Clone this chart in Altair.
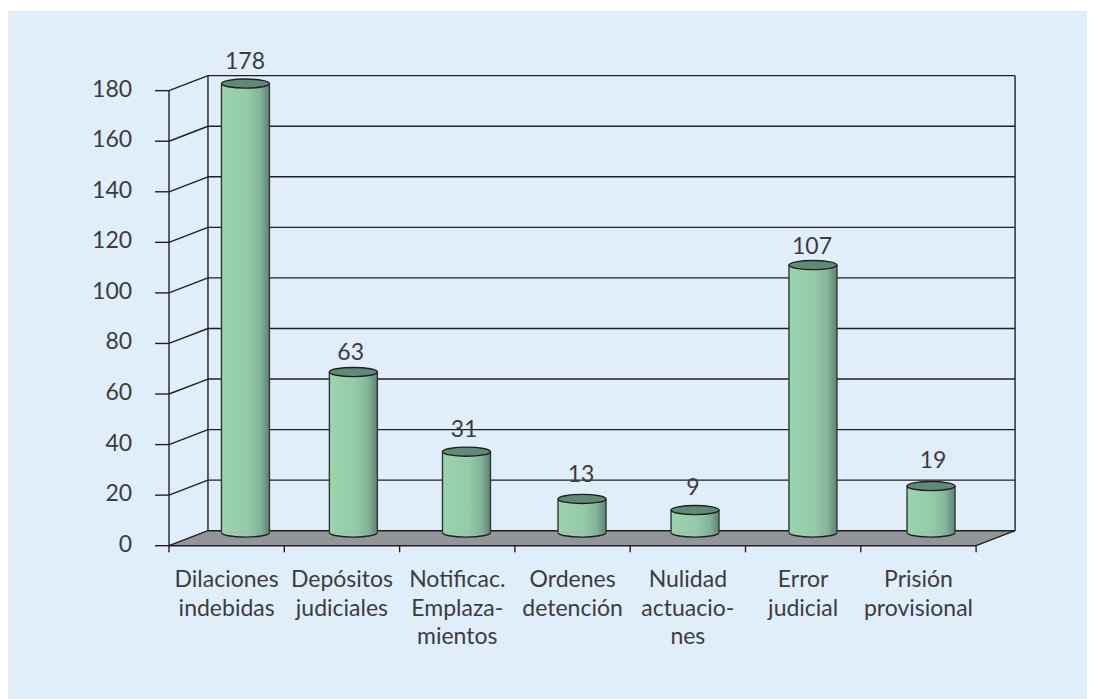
import altair as alt
import pandas as pd

categories = [["Dilaciones", "indebidas"], ["Depósitos", "judiciales"],
              ["Notificac.", "Emplaza-", "mientos"], ["Ordenes", "detención"],
              ["Nulidad", "actuacio-", "nes"], ["Error", "judicial"],
              ["Prisión", "provisional"]]
values = [178, 63, 31, 13, 9, 107, 19]
bar_center = [0.663, 1.599, 2.58, 3.582, 4.562, 5.585, 6.609]
bar_top = [182.8, 68.7, 37.2, 18.5, 14.1, 111.0, 23.6]
label_x = [0.659, 1.576, 2.559, 3.573, 4.545, 5.577, 6.626]
label_y = [191.5, 76.3, 45.8, 28.0, 22.8, 118.2, 33.5]
y_ticks = [0, 20, 40, 60, 80, 100, 120, 140, 160, 180]

BAR_BASE = 5.2
BAR_HALF = 0.208
DEPTH_X = 0.338
DEPTH_Y = 5.93
N = len(categories)

W, H = 1079, 691
xs = alt.Scale(domain=[-1.3964, 7.9618], range=[0, W], nice=False, zero=False)
ys = alt.Scale(domain=[-60.64, 212.7], range=[H, 0], nice=False, zero=False)
INK = "#231f20"
TEXT = "#3c3c3e"
FONT = "Lato"
FS = 23


def X(f="x"):
    return alt.X(f"{f}:Q", scale=xs, axis=None)


def Y(f="y"):
    return alt.Y(f"{f}:Q", scale=ys, axis=None)


def segs(rows, width=1.4, color=INK):
    df = pd.DataFrame(rows, columns=["x", "y", "x2", "y2"])
    return alt.Chart(df).mark_rule(color=color, strokeWidth=width).encode(
        x=X(), y=Y(), x2="x2:Q", y2="y2:Q")


panel = alt.Chart(pd.DataFrame({"a": [0]})).mark_rect(color="#e0eefa").encode(
    x=alt.value(0), x2=alt.value(W), y=alt.value(3), y2=alt.value(H))

# floor
floor_df = pd.DataFrame({
    "x": [0, DEPTH_X, N, N + DEPTH_X],
    "y": [0, 0, 0, DEPTH_Y],
    "y2": [0, DEPTH_Y, DEPTH_Y, DEPTH_Y],
})
floor = alt.Chart(floor_df).mark_area(color="#939598", opacity=1).encode(
    x=X(), y=Y(), y2="y2:Q")

# wall grid, side wall, ticks
wall_rows = [[DEPTH_X, v + DEPTH_Y, N + DEPTH_X, v + DEPTH_Y] for v in y_ticks]
wall_rows += [[DEPTH_X, DEPTH_Y, DEPTH_X, 180 + DEPTH_Y],
              [N + DEPTH_X, DEPTH_Y, N + DEPTH_X, 180 + DEPTH_Y]]
wall = segs(wall_rows)
side_rows = [[0, v, DEPTH_X, v + DEPTH_Y] for v in y_ticks]
side_rows += [[-0.121, v, 0, v] for v in y_ticks]
side_rows += [[0, 0, 0, 180], [0, 0, N, 0], [N, 0, N + DEPTH_X, DEPTH_Y]]
side_rows += [[float(i), 0, float(i), -2.6] for i in range(N + 1)]
side = segs(side_rows)

# cylinders
grad = alt.LinearGradient(
    gradient="linear", x1=0, x2=1, y1=0, y2=0,
    stops=[alt.GradientStop(offset=0, color="#9cd4ae"),
           alt.GradientStop(offset=0.55, color="#94caa8"),
           alt.GradientStop(offset=0.8, color="#84b39a"),
           alt.GradientStop(offset=1, color="#5c8672")])
bars = pd.DataFrame({"c": bar_center, "top": bar_top})
bars["base"] = BAR_BASE
bars["left"] = bars["c"] - BAR_HALF
bars["right"] = bars["c"] + BAR_HALF

LOWER = "M -1 0 A 1 0.19 0 0 0 1 0"
ELLIPSE = "M -1 0 A 1 0.19 0 1 1 1 0 A 1 0.19 0 1 1 -1 0 Z"
SIZE = 2304

bottom = alt.Chart(bars).mark_point(
    shape=LOWER, size=SIZE, filled=True, fill=grad, stroke=INK,
    strokeWidth=1.4, opacity=1).encode(x=X("c"), y=Y("base"))
body = alt.Chart(bars).mark_rect(fill=grad).encode(
    x=X("left"), x2="right:Q", y=Y("base"), y2="top:Q")
edge_l = alt.Chart(bars).mark_rule(color="#333335", strokeWidth=1.4).encode(
    x=X("left"), y=Y("base"), y2="top:Q")
edge_r = alt.Chart(bars).mark_rule(color="#333335", strokeWidth=1.4).encode(
    x=X("right"), y=Y("base"), y2="top:Q")
lid = alt.Chart(bars).mark_point(
    shape=ELLIPSE, size=SIZE, filled=True, fill="#5f8a76", stroke=INK,
    strokeWidth=1.4, opacity=1).encode(x=X("c"), y=Y("top"))

# text
val_df = pd.DataFrame({"x": label_x, "y": label_y, "t": [str(v) for v in values]})
val_text = alt.Chart(val_df).mark_text(
    font=FONT, fontSize=FS, color=TEXT, align="center", baseline="middle").encode(
    x=X(), y=Y(), text="t:N")

tick_df = pd.DataFrame({"x": [-0.32] * len(y_ticks), "y": y_ticks,
                        "t": [str(v) for v in y_ticks]})
tick_text = alt.Chart(tick_df).mark_text(
    font=FONT, fontSize=FS, color=TEXT, align="right", baseline="middle", dy=-1).encode(
    x=X(), y=Y(), text="t:N")

cat_rows = []
for i, lines in enumerate(categories):
    for j, line in enumerate(lines):
        cat_rows.append({"x": i + 0.5, "y": -16.3 - 11.35 * j, "t": line})
cat_text = alt.Chart(pd.DataFrame(cat_rows)).mark_text(
    font=FONT, fontSize=FS, color=TEXT, align="center", baseline="alphabetic").encode(
    x=X(), y=Y(), text="t:N")

chart = alt.layer(
    panel, floor, wall, side, bottom, body, edge_l, edge_r, lid,
    val_text, tick_text, cat_text
).properties(
    width=W, height=H, padding=0, background="white",
    autosize=alt.AutoSizeParams(type="none")
).configure_view(stroke=None)

chart.save("out.html", embed_options={"renderer": "svg", "actions": False})
